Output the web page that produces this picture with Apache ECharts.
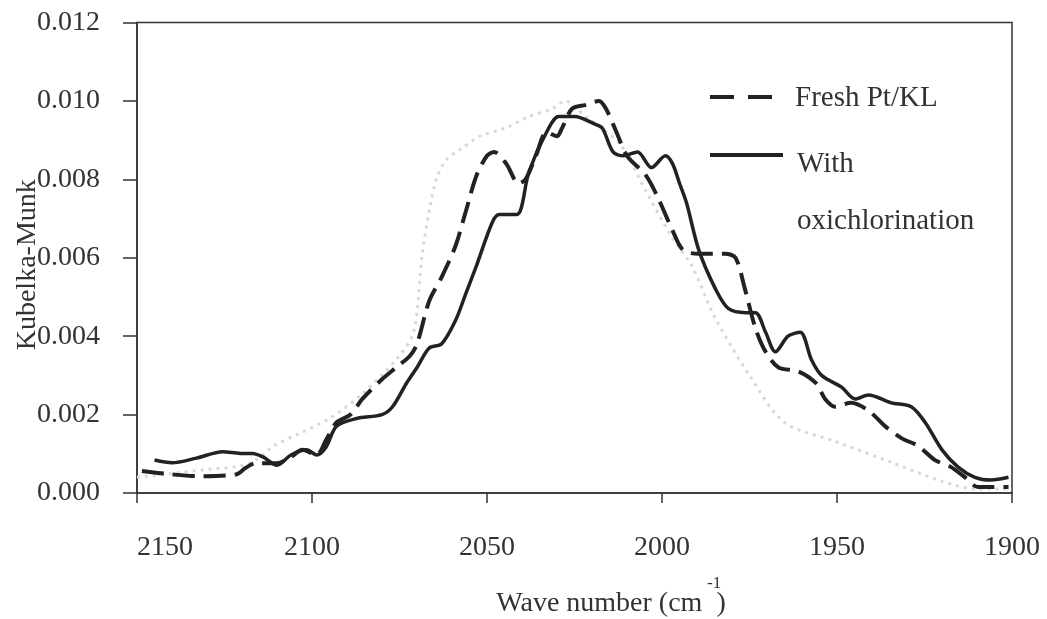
<!DOCTYPE html>
<html>
<head>
<meta charset="utf-8">
<script src="https://cdn.jsdelivr.net/npm/echarts@6/dist/echarts.min.js"></script>
<style>html,body{margin:0;padding:0;background:#fff}#c{width:1047px;height:619px}</style>
</head>
<body>
<div id="c"></div>
<script>
// Wave numbers (cm-1) and Kubelka-Munk values
const freshWn = [2148.6,2140.6,2133,2121.5,2119,2116,2110,2106,2102.7,2098.7,2096,2093,2089,2085.6,2080,2076,2072,2070,2066.5,2063,2059,2056,2053,2050,2048,2044.5,2041,2039,2036,2033,2030,2028.6,2025.7,2021.8,2018,2016,2013,2010,2004.6,2001,1997,1994,1989.5,1982,1979,1976.3,1973.3,1970.4,1966.7,1961,1956,1953.4,1950.5,1946,1941,1936.2,1931.6,1926.8,1922,1917.4,1913.4,1909.7,1901];
const freshKM = [0.00056,0.00048,0.00043,0.00048,0.00064,0.00076,0.00076,0.00092,0.0011,0.00097,0.00135,0.0018,0.002,0.0024,0.0029,0.0032,0.0035,0.0038,0.0049,0.0055,0.0063,0.0072,0.0081,0.0086,0.0087,0.0084,0.0079,0.0080,0.0086,0.0092,0.0091,0.0093,0.0098,0.0099,0.0100,0.0098,0.0092,0.0086,0.0081,0.0075,0.0067,0.0062,0.0061,0.0061,0.0060,0.0052,0.0042,0.0036,0.0032,0.0031,0.0028,0.0024,0.0022,0.0023,0.0021,0.0017,0.0014,0.0012,0.00084,0.00066,0.0004,0.00015,0.00015];

const oxiWn = [2145,2140,2133,2125.5,2120.5,2117,2114,2110,2106,2101.5,2098.7,2096,2093,2087.3,2080,2077,2073,2070,2066.5,2063,2059,2056,2053,2048.5,2046.5,2041.5,2038,2033,2029.5,2025,2019,2017,2014,2011,2007,2003,1999,1997,1995,1993,1989.5,1984.7,1981,1976,1973.3,1970.4,1967.6,1964,1960.5,1957.3,1954.4,1948.7,1944.8,1941,1934.5,1928.8,1924.8,1920,1915.4,1910.6,1906,1901];
const oxiKM = [0.00084,0.00077,0.00089,0.00105,0.00101,0.00101,0.00092,0.00071,0.00097,0.0011,0.00097,0.00117,0.0017,0.0019,0.0020,0.0022,0.0028,0.0032,0.0037,0.0038,0.0044,0.0051,0.0058,0.0069,0.0071,0.0071,0.0082,0.0092,0.0096,0.0096,0.0094,0.0093,0.0087,0.0086,0.0087,0.0083,0.0086,0.0084,0.0079,0.0074,0.0062,0.0052,0.0047,0.0046,0.0046,0.0041,0.0036,0.0040,0.0041,0.0034,0.0030,0.0027,0.0024,0.0025,0.0023,0.0022,0.0018,0.0011,0.00066,0.0004,0.00033,0.0004];

const greyWn = [2150,2140,2130,2120,2115,2111,2104,2095,2086,2076,2071,2068.5,2066.5,2064.5,2061.6,2057,2052,2045,2038,2031.4,2027.6,2021.8,2012,2004.6,1997,1991.5,1985,1975,1965,1950,1935,1920,1910,1900];
const greyKM = [0.0004,0.0005,0.0006,0.0007,0.0009,0.0012,0.0015,0.0019,0.0025,0.0034,0.0041,0.0061,0.0072,0.0080,0.0085,0.0088,0.0091,0.0093,0.0096,0.0098,0.0100,0.0096,0.0089,0.0077,0.0065,0.0058,0.0045,0.0030,0.0018,0.0013,0.0008,0.0003,0.0001,0.0001];

const xTicks = [2150,2100,2050,2000,1950,1900];
const yTicks = [0,0.002,0.004,0.006,0.008,0.010,0.012];

const zip = (a,b) => a.map((v,i)=>[v,b[i]]);
const FONT = '"Liberation Serif","DejaVu Serif",serif';
const TXT = '#333';
const LINE = '#222';

const chart = echarts.init(document.getElementById('c'), null, {renderer:'canvas'});
chart.setOption({
  backgroundColor:'#fff',
  animation:false,
  grid:{left:137, right:35, top:22.5, bottom:126, outerBoundsMode:'none', containLabel:false,
        show:true, borderColor:'#333', borderWidth:1.5, backgroundColor:'transparent'},
  xAxis:{
    type:'value', inverse:true, min:xTicks[xTicks.length-1], max:xTicks[0], interval:50,
    axisLine:{show:true, onZero:false, lineStyle:{color:'#333', width:1.5}},
    axisTick:{show:true, length:10, lineStyle:{color:'#333', width:1.5}},
    splitLine:{show:false},
    axisLabel:{margin:41, fontFamily:FONT, fontSize:28, color:TXT, alignMaxLabel:'left', formatter:v=>String(v)},
    name:'Wave number (cm  )', nameLocation:'middle', nameGap:97, nameMoveOverlap:false,
    nameTextStyle:{fontFamily:FONT, fontSize:28, color:TXT, padding:[0,0,0,73]}
  },
  yAxis:{
    type:'value', min:yTicks[0], max:yTicks[yTicks.length-1], interval:0.002,
    axisLine:{show:true, lineStyle:{color:'#333', width:1.5}},
    axisTick:{show:true, length:14, lineStyle:{color:'#333', width:1.5}},
    splitLine:{show:false},
    axisLabel:{margin:37, fontFamily:FONT, fontSize:28, color:TXT, formatter:v=>v.toFixed(3)},
    name:'Kubelka-Munk', nameLocation:'middle', nameGap:95, nameMoveOverlap:false,
    nameTextStyle:{fontFamily:FONT, fontSize:28, color:TXT, padding:[0,14,0,0]}
  },
  series:[
    {name:'Reference', type:'line', data:zip(greyWn,greyKM), symbol:'none', smooth:0.3,
     lineStyle:{color:'#d8d8d8', width:3, type:[3,5]}, z:1},
    {name:'Fresh Pt/KL', type:'line', data:zip(freshWn,freshKM), symbol:'none', smooth:0.3,
     lineStyle:{color:LINE, width:4, type:[22,9]}, z:3},
    {name:'With oxichlorination', type:'line', data:zip(oxiWn,oxiKM), symbol:'none', smooth:0.3,
     lineStyle:{color:LINE, width:3.5}, z:2}
  ],
  graphic:[
    {type:'line', shape:{x1:710,y1:97,x2:772,y2:97}, style:{stroke:LINE, lineWidth:4, lineDash:[24,14]}},
    {type:'text', x:795, y:98, style:{text:'Fresh Pt/KL', fill:TXT, font:'29px '+FONT, verticalAlign:'middle'}},
    {type:'line', shape:{x1:710,y1:155,x2:783,y2:155}, style:{stroke:LINE, lineWidth:4}},
    {type:'text', x:797, y:164, style:{text:'With', fill:TXT, font:'29px '+FONT, verticalAlign:'middle'}},
    {type:'text', x:797, y:221, style:{text:'oxichlorination', fill:TXT, font:'29px '+FONT, verticalAlign:'middle'}},
    {type:'text', x:707, y:584, style:{text:'-1', fill:TXT, font:'17px '+FONT, verticalAlign:'middle'}}
  ]
});
</script>
</body>
</html>
